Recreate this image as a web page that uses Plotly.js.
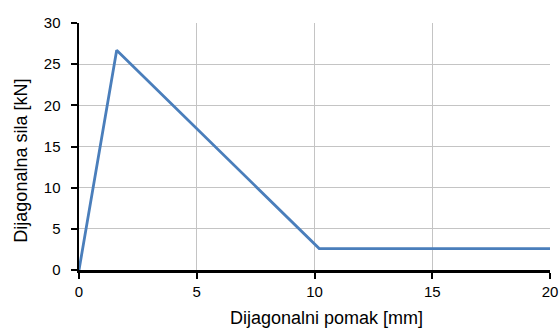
<!DOCTYPE html>
<html>
<head>
<meta charset="utf-8">
<script src="https://cdn.plot.ly/plotly-3.0.1.min.js"></script>
<style>html,body{margin:0;padding:0;background:#fff;}#chart{width:559px;height:329px;}</style>
</head>
<body>
<div id="chart"></div>
<script>
const displacement = [0, 1.6, 10.2, 20];
const force = [0, 26.7, 2.6, 2.6];
const xTicks = [0, 5, 10, 15, 20];
const yTicks = [0, 5, 10, 15, 20, 25, 30];
const xTitle = 'Dijagonalni pomak [mm]';
const yTitle = 'Dijagonalna sila [kN]';

const trace = {
  x: displacement, y: force, type: 'scatter', mode: 'lines',
  line: {color: '#4a7ebb', width: 2.8}, hoverinfo: 'none'
};
const titleFont = {family: 'Liberation Sans, Arial, sans-serif', size: 18, color: '#000'};
const layout = {
  width: 559, height: 329,
  margin: {l: 79, r: 9, t: 23, b: 59},
  paper_bgcolor: '#fff', plot_bgcolor: '#fff',
  showlegend: false,
  font: {family: 'Liberation Sans, Arial, sans-serif', color: '#000', size: 15},
  xaxis: {
    range: [0, 20], tickvals: xTicks, ticktext: xTicks.map(String),
    showgrid: true, gridcolor: '#c4c4c4', gridwidth: 1,
    zeroline: false, showline: true, linecolor: '#000', linewidth: 2.5,
    ticks: 'outside', ticklen: 6, tickcolor: '#000', tickwidth: 2,
    tickfont: {size: 15}, ticklabelstandoff: 0
  },
  yaxis: {
    range: [0, 30], tickvals: yTicks, ticktext: yTicks.map(String),
    showgrid: true, gridcolor: '#c4c4c4', gridwidth: 1,
    zeroline: false, showline: true, linecolor: '#000', linewidth: 2.5,
    ticks: 'outside', ticklen: 6, tickcolor: '#000', tickwidth: 2,
    tickfont: {size: 15}, ticklabelstandoff: 7
  },
  annotations: [
    {text: xTitle, xref: 'paper', yref: 'paper', x: 0.5265, y: -0.194,
     xanchor: 'center', yanchor: 'middle', showarrow: false, font: titleFont},
    {text: yTitle, xref: 'paper', yref: 'paper', x: -0.123, y: 0.443, textangle: -90,
     xanchor: 'center', yanchor: 'middle', showarrow: false, font: titleFont}
  ]
};
Plotly.newPlot('chart', [trace], layout, {staticPlot: true, displayModeBar: false});
</script>
</body>
</html>
